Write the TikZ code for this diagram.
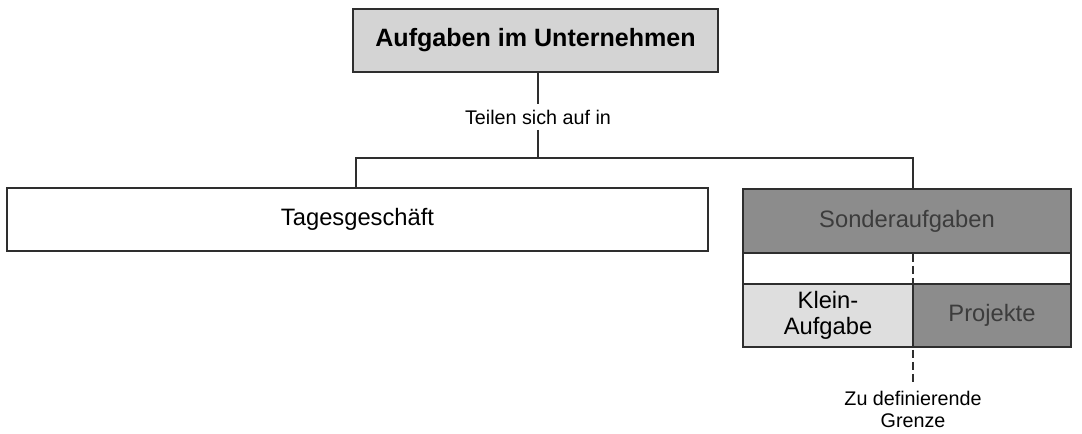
\documentclass[tikz,border=0pt]{standalone}
\usepackage{fontspec}
\setmainfont{Liberation Sans}
\definecolor{topgray}{HTML}{D4D4D4}
\definecolor{darkfill}{HTML}{8C8C8C}
\definecolor{lightfill}{HTML}{DEDEDE}
\definecolor{darktext}{HTML}{3C3C3C}
\definecolor{linecol}{HTML}{2E2E2E}
\begin{document}
\begin{tikzpicture}[x=0.75pt,y=-0.75pt,
  box/.style={draw=linecol, line width=1.3pt, rectangle, inner sep=0pt, align=center,
    font=\fontsize{17.8}{20}\selectfont},
  conn/.style={draw=linecol, line width=1.3pt},
  lbl/.style={inner sep=2pt, align=center, font=\fontsize{14.8}{17}\selectfont}]
\useasboundingbox[fill=white] (0,0) rectangle (1082,433);
\node[box, fill=topgray, minimum width=365*0.75pt, minimum height=63*0.75pt,
  font=\fontsize{18.8}{22}\selectfont\bfseries] (top) at (535.5,40.5) {Aufgaben im Unternehmen};
\node[lbl, inner ysep=4pt] (teilen) at (538,117) {Teilen sich auf in};
\node[box, fill=white, minimum width=701*0.75pt, minimum height=63*0.75pt] (tag) at (357.5,219.5) {Tagesgeschäft};
\node[box, fill=darkfill, text=darktext, minimum width=328*0.75pt, minimum height=64*0.75pt] (sonder) at (907,221) {Sonderaufgaben};
\node[box, fill=white, minimum width=328*0.75pt, minimum height=31*0.75pt] (band) at (907,268.5) {};
\node[box, fill=lightfill, minimum width=170*0.75pt, minimum height=63*0.75pt] (klein) at (828,315.5) {Klein-\\Aufgabe};
\node[box, fill=darkfill, text=darktext, minimum width=158*0.75pt, minimum height=63*0.75pt] (proj) at (992,315.5) {Projekte};
\coordinate (j) at (538,158);
\coordinate (g) at (913,383);
\node[lbl, anchor=north] (grenze) at (913,388) {Zu definierende\\Grenze};
\draw[conn] (top.south -| j) -- (teilen.north -| j);
\draw[conn] (teilen.south -| j) -- (j);
\draw[conn] (tag.north -| 356,0) |- (j) -| (g |- sonder.north);
\draw[conn, dash pattern=on 6pt off 3pt, line width=1.6pt] (g |- sonder.south) -- (g);
\end{tikzpicture}
\end{document}
